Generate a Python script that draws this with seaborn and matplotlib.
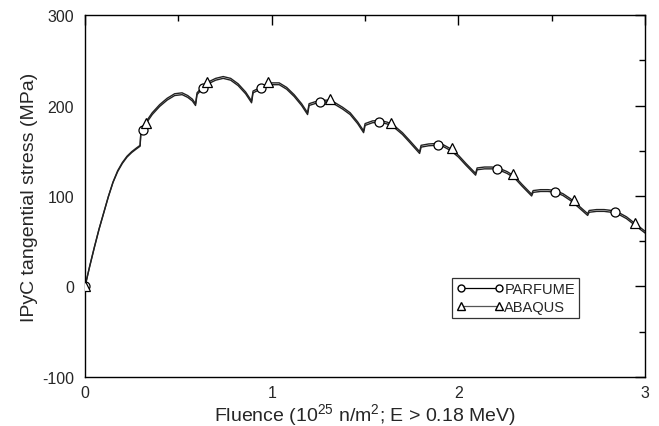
import pandas as pd
import matplotlib
matplotlib.use('Agg')
import matplotlib.pyplot as plt
import seaborn as sns
from matplotlib.lines import Line2D

# fluence (10^25 n/m^2) and IPyC tangential stress (MPa)
fluence = [0.0, 0.025, 0.05, 0.075, 0.1, 0.125, 0.15, 0.175, 0.2, 0.225, 0.25, 0.275, 0.295,
           0.3, 0.33, 0.36, 0.40, 0.44, 0.48, 0.52, 0.55, 0.575, 0.592,
           0.6, 0.63, 0.66, 0.70, 0.74, 0.78, 0.82, 0.86, 0.892,
           0.9, 0.93, 0.96, 1.0, 1.04, 1.08, 1.12, 1.16, 1.192,
           1.2, 1.23, 1.26, 1.3, 1.34, 1.38, 1.42, 1.46, 1.492,
           1.5, 1.54, 1.58, 1.62, 1.66, 1.70, 1.74, 1.792,
           1.8, 1.84, 1.88, 1.92, 1.96, 2.0, 2.04, 2.092,
           2.1, 2.14, 2.18, 2.22, 2.26, 2.30, 2.34, 2.392,
           2.4, 2.44, 2.48, 2.52, 2.56, 2.60, 2.64, 2.692,
           2.7, 2.74, 2.78, 2.82, 2.86, 2.90, 2.94, 3.0]

parfume = [0, 22, 43, 63, 81, 99, 115, 127, 136, 143, 148, 152, 155,
           172, 181, 190, 199, 206, 211, 212, 209, 205, 200,
           212, 219, 224, 228, 230, 228, 222, 213, 203,
           214, 217, 220, 223, 223, 218, 210, 200, 190,
           200, 202, 203.5, 204, 201, 196, 190, 180, 170,
           178, 181, 181.5, 179.5, 175, 168, 159, 147,
           154, 155.5, 156, 154.5, 150, 143, 134, 123,
           129, 130, 130, 128.5, 125, 120, 111, 100,
           104, 105, 105, 104, 100.5, 95, 88, 78.5,
           82, 83, 83, 82, 79.5, 75, 68.5, 59]

abaqus = [0, 22.5, 43.5, 63.5, 81.5, 99.5, 115.5, 128, 137, 144, 149, 153, 156,
          174, 183, 192, 201, 208, 213, 214, 211, 207, 202,
          214, 221, 226, 230, 232, 230, 224, 215, 205,
          216, 219, 222, 225, 225, 220, 212, 202, 192,
          202, 204, 205.5, 206, 203, 198, 192, 182, 172,
          180, 183, 183.5, 181.5, 177, 170, 161, 149,
          156, 157.5, 158, 156.5, 152, 145, 136, 125,
          131, 132, 132, 130.5, 127, 122, 113, 102,
          106, 107, 107, 106, 102.5, 97, 90, 80.5,
          84, 85, 85, 84, 81.5, 77, 70.5, 61]

# sparse symbol positions on each curve
parfume_mark_x = [0.0, 0.313, 0.632, 0.944, 1.261, 1.576, 1.891, 2.205, 2.518, 2.836]
parfume_mark_y = [0, 173, 219, 219, 203.5, 181.4, 156, 129.8, 104.4, 82]
abaqus_mark_x = [0.0, 0.327, 0.655, 0.982, 1.313, 1.637, 1.964, 2.292, 2.617, 2.946]
abaqus_mark_y = [0, 181, 226, 226, 207.5, 180.5, 152.5, 124, 95.6, 70.3]

df = pd.concat([
    pd.DataFrame({'Fluence': fluence, 'Stress': parfume, 'Code': 'PARFUME'}),
    pd.DataFrame({'Fluence': fluence, 'Stress': abaqus, 'Code': 'ABAQUS'}),
], ignore_index=True)

sns.set_style('white')
plt.rcParams['font.family'] = ['Liberation Sans', 'DejaVu Sans']
plt.rcParams['mathtext.default'] = 'regular'
plt.rcParams['axes.unicode_minus'] = False

fig = plt.figure(figsize=(6.59, 4.27), dpi=100)
ax = fig.add_axes([0.129, 0.1148, 0.85, 0.8477])

sns.lineplot(data=df, x='Fluence', y='Stress', hue='Code', palette=['#222222', '#222222'],
             linewidth=1.0, estimator=None, sort=False, legend=False, ax=ax)

ax.plot(parfume_mark_x, parfume_mark_y, linestyle='none', marker='o', markersize=6.5,
        markerfacecolor='white', markeredgecolor='black', markeredgewidth=0.9, zorder=5)
ax.plot(abaqus_mark_x, abaqus_mark_y, linestyle='none', marker='^', markersize=7.5,
        markerfacecolor='white', markeredgecolor='black', markeredgewidth=0.9, zorder=5)

ax.set_xlim(0, 3)
ax.set_ylim(-100, 300)
ax.set_xticks([0, 1, 2, 3])
ax.set_xticks([0.5, 1.5, 2.5], minor=True)
ax.set_yticks([-100, 0, 100, 200, 300])
ax.set_yticks([-50, 50, 150, 250], minor=True)
ax.tick_params(which='both', direction='in', top=True, right=True, color='black', width=1)
ax.tick_params(which='major', length=7, labelsize=11.5)
ax.tick_params(axis='x', which='major', pad=6)
ax.tick_params(axis='y', which='major', pad=8)
ax.tick_params(which='minor', length=4)
for s in ax.spines.values():
    s.set_color('black')
    s.set_linewidth(1.0)

ax.set_xlabel('Fluence (10$^{25}$ n/m$^{2}$; E > 0.18 MeV)', fontsize=14, labelpad=0.5)
ax.set_ylabel('IPyC tangential stress (MPa)', fontsize=14, labelpad=3)

handles = [
    Line2D([], [], color='black', linewidth=0.9, marker='o', markersize=5,
           markerfacecolor='white', markeredgecolor='black'),
    Line2D([], [], color='#555555', linewidth=0.9, marker='^', markersize=5.5,
           markerfacecolor='white', markeredgecolor='black'),
]
leg = ax.legend(handles, ['PARFUME', 'ABAQUS'], loc='lower left', bbox_to_anchor=(0.655, 0.163),
                numpoints=2, handlelength=3.2, handletextpad=0.1, fontsize=10.5, frameon=True,
                fancybox=False, borderpad=0.3, labelspacing=0.25, borderaxespad=0)
leg.get_frame().set_edgecolor('black')
leg.get_frame().set_linewidth(0.9)

fig.savefig('out.png', dpi=100)
